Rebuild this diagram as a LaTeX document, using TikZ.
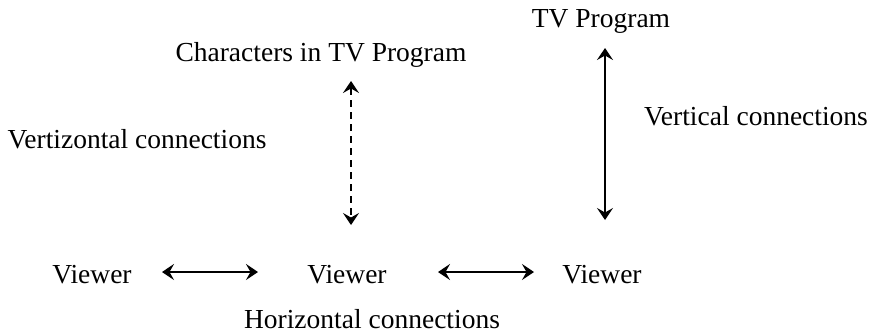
\documentclass[tikz,border=0pt]{standalone}
\usepackage{fontspec}
\setmainfont{Liberation Serif}
\usetikzlibrary{arrows.meta}
\begin{document}
\begin{tikzpicture}[x=1pt,y=-1pt,
  lbl/.style={inner sep=0pt, anchor=base, font=\fontsize{27.5}{32}\selectfont},
  conn/.style={line width=1.5pt, {Stealth[length=12pt,width=16pt,inset=4.5pt]}-{Stealth[length=12pt,width=16pt,inset=4.5pt]}}]
\useasboundingbox (0,0) rectangle (873,333);
\node[lbl] (tv) at (601,27) {TV Program};
\node[lbl] (chars) at (321,61) {Characters in TV Program};
\node[lbl] (vertiz) at (137,148) {Vertizontal connections};
\node[lbl] (vert) at (756,125) {Vertical connections};
\node[lbl] (v1) at (92,283) {Viewer};
\node[lbl] (v2) at (347,283) {Viewer};
\node[lbl] (v3) at (602,283) {Viewer};
\node[lbl] (horiz) at (372,328) {Horizontal connections};
\coordinate (a1) at (162,272);
\coordinate (a2) at (258,272);
\coordinate (b1) at (438,272);
\coordinate (b2) at (534,272);
\coordinate (c1) at (351,81);
\coordinate (c2) at (351,225);
\coordinate (d1) at (605,48);
\coordinate (d2) at (605,220);
\draw[conn] (a1) -- (a2);
\draw[conn] (b1) -- (b2);
\draw[conn, dash pattern=on 7pt off 5pt] (c1) -- (c2);
\draw[conn] (d1) -- (d2);
\end{tikzpicture}
\end{document}
